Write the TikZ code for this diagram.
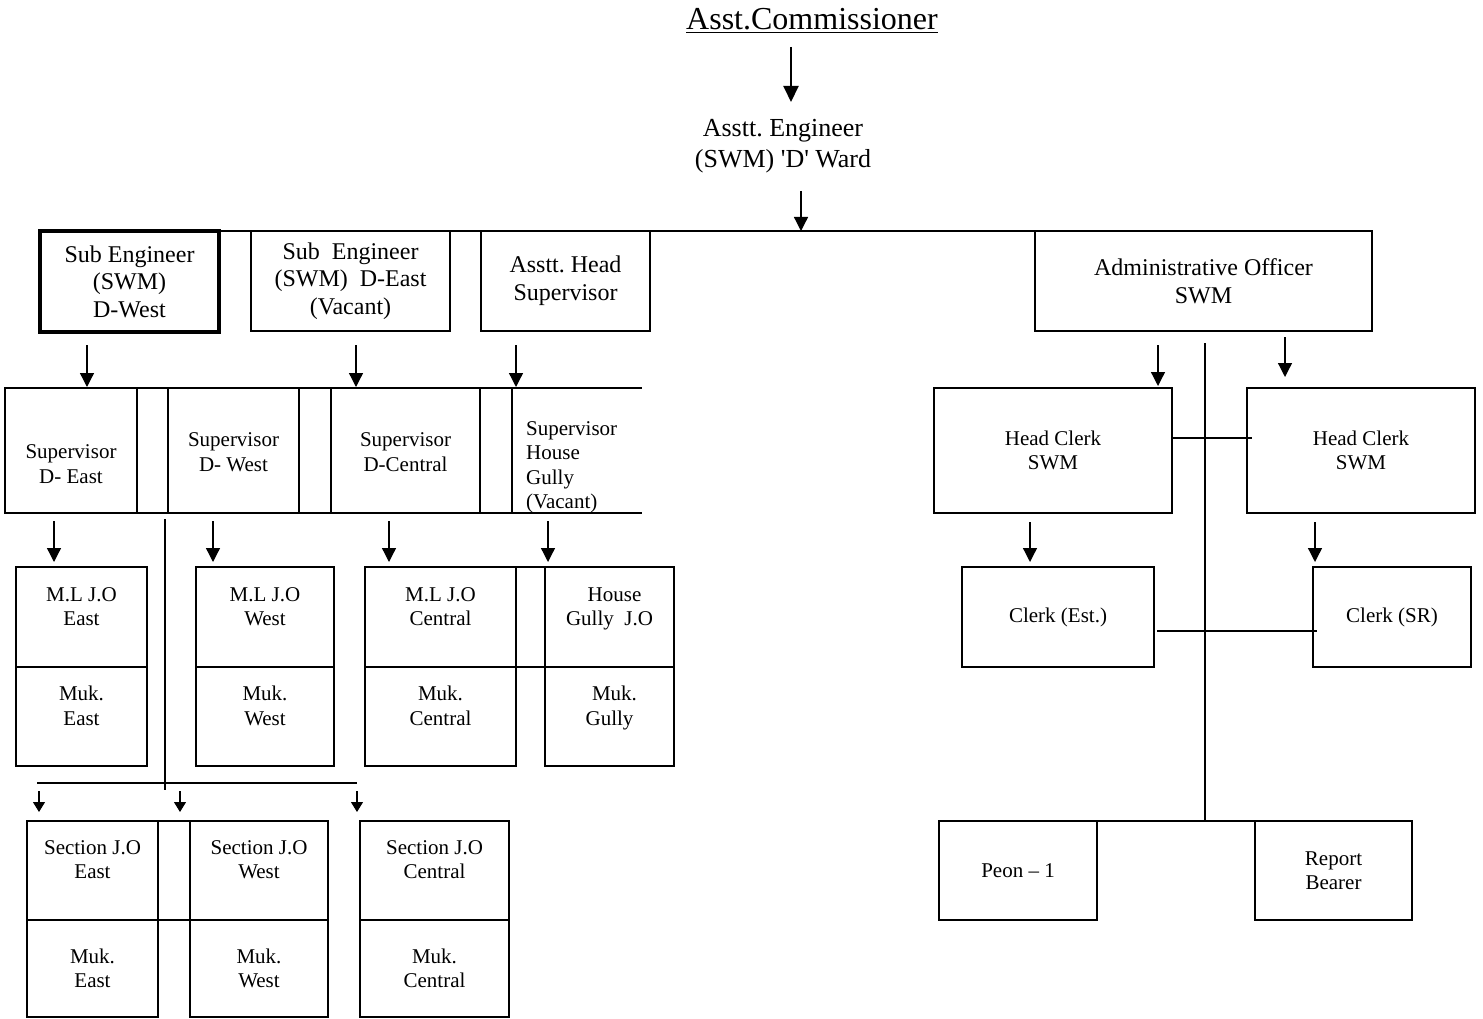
\documentclass[tikz,border=0pt]{standalone}
\usepackage{fontspec}
\setmainfont{Liberation Serif}
\usetikzlibrary{arrows.meta}
\frenchspacing
\newcommand\fsT{\fontsize{32}{37}\selectfont}
\newcommand\fsE{\fontsize{26}{31}\selectfont}
\newcommand\fsM{\fontsize{24}{27.6}\selectfont}
\newcommand\fsS{\fontsize{21}{24.5}\selectfont}
\tikzset{
  box/.style={draw, line width=1.8pt, inner sep=0pt, outer sep=0pt, align=center, font=\fsS},
  ghost/.style={inner sep=0pt, outer sep=0pt},
  txt/.style={inner sep=0pt, align=center, font=\fsS, text depth=0pt},
  ln/.style={line width=1.8pt},
  thinln/.style={line width=1.5pt},
  arr/.style={line width=1.3pt, -{Triangle[length=14pt,width=14pt]}},
  bigarr/.style={line width=2pt, -{Triangle[length=16pt,width=15pt]}},
  smallarr/.style={line width=1.1pt, -{Triangle[length=10pt,width=12pt]}},
}
\begin{document}
\begin{tikzpicture}[x=1pt,y=-1pt]
\useasboundingbox (0,0) rectangle (1483,1019);

% top
\node[inner sep=0pt, font=\fsT, anchor=base] (t) at (812,30) {Asst.Commissioner};
\draw[line width=1.5pt] ([yshift=-2.5pt]t.base west) -- ([yshift=-2.5pt]t.base east);
\node[txt, font=\fsE, text depth=] (ae) at (783,146) {Asstt. Engineer\\(SWM) \textquotesingle D\textquotesingle{} Ward};
\draw[bigarr] ([shift={(-21,17)}]t.base) -- ([shift={(8,-44)}]ae.center);

% row 1
\node[box, font=\fsM, line width=3.2pt, minimum width=179pt, minimum height=101pt] (b1) at (129.5,281.5) {Sub Engineer\\(SWM)\\D-West};
\node[box, font=\fsM, minimum width=199pt, minimum height=100pt] (b2) at (350.5,281) {Sub\ \ Engineer\\(SWM)\ \ D-East\\(Vacant)};
\node[box, font=\fsM, minimum width=169pt, minimum height=100pt] (b3) at (565.5,281) {Asstt. Head\\Supervisor};
\node[box, font=\fsM, minimum width=337pt, minimum height=100pt] (b4) at (1203.5,281) {Administrative Officer\\SWM};
\draw[ln] (b1.north west) -- (b4.north east);
\coordinate (sp) at (801,231);
\draw[arr] ([shift={(18,45)}]ae.center) -- (sp);

% row 2 supervisors
\node[box, minimum width=132pt, minimum height=125pt] (s1) at (71,450.5) {};
\node[box, minimum width=131pt, minimum height=125pt] (s2) at (233.5,450.5) {};
\node[box, minimum width=149pt, minimum height=125pt] (s3) at (405.5,450.5) {};
\node[ghost, minimum width=130pt, minimum height=125pt] (s4) at (577,450.5) {};
\draw[ln] (s1.north west) -- (s4.north east);
\draw[ln] (s1.south west) -- (s4.south east);
\draw[ln] (s4.north west) -- (s4.south west);
\node[txt] (s1t) at (71,464) {Supervisor\\D- East};
\node[txt] (s2t) at (233.5,452) {Supervisor\\D- West};
\node[txt] (s3t) at (405.5,452) {Supervisor\\D-Central};
\node[txt, align=left, anchor=west] (s4t) at (526,465) {Supervisor\\House\\Gully\\(Vacant)};

\draw[arr] ([shift={(-42.5,13)}]b1.south) -- ([shift={(16,-1)}]s1.north);
\draw[arr] ([shift={(5.5,14)}]b2.south) -- ([shift={(-49.5,-1)}]s3.north);
\draw[arr] ([shift={(-49.5,14)}]b3.south) -- ([shift={(-61,-1)}]s4.north);

% row 3
\node[box, minimum width=131pt, minimum height=100pt] (m1t) at (81.5,617) {};
\node[box, minimum width=131pt, minimum height=99pt] (m1b) at (81.5,716.5) {};
\node[box, minimum width=138pt, minimum height=100pt] (m2t) at (265,617) {};
\node[box, minimum width=138pt, minimum height=99pt] (m2b) at (265,716.5) {};
\node[box, minimum width=151pt, minimum height=100pt] (m3t) at (440.5,617) {};
\node[box, minimum width=151pt, minimum height=99pt] (m3b) at (440.5,716.5) {};
\node[box, minimum width=129pt, minimum height=100pt] (m4t) at (609.5,617) {};
\node[box, minimum width=129pt, minimum height=99pt] (m4b) at (609.5,716.5) {};
\draw[ln] (m3t.north east) -- (m4t.north west);
\draw[ln] (m3t.south east) -- (m4t.south west);
\node[txt] at (81.5,606.5) {M.L J.O\\East};
\node[txt] at (81.5,705.5) {Muk.\\East};
\node[txt] at (265,606.5) {M.L J.O\\West};
\node[txt] at (265,705.5) {Muk.\\West};
\node[txt] at (440.5,606.5) {M.L J.O\\Central};
\node[txt] at (440.5,705.5) {Muk.\\Central};
\node[txt] at (609.5,606.5) {\hspace*{10pt}House\\Gully\ \ J.O};
\node[txt] at (609.5,705.5) {\hspace*{10pt}Muk.\\Gully};

\draw[arr] ([shift={(-17,8)}]s1.south) -- ([shift={(-27.5,-5)}]m1t.north);
\draw[arr] ([shift={(-20.5,8)}]s2.south) -- ([shift={(-52,-5)}]m2t.north);
\draw[arr] ([shift={(-16.5,8)}]s3.south) -- ([shift={(-51.5,-5)}]m3t.north);
\draw[arr] ([shift={(-29,8)}]s4.south) -- ([shift={(-61.5,-5)}]m4t.north);

% row 4
\coordinate (hl) at (37,783);
\coordinate (hr) at (357,783);
\draw[ln] ([shift={(-3,6)}]s2.south west) -- ([shift={(128,7)}]hl);
\draw[ln] (hl) -- (hr);
\node[box, minimum width=131pt, minimum height=99pt] (x1t) at (92.5,870.5) {};
\node[box, minimum width=131pt, minimum height=97pt] (x1b) at (92.5,968.5) {Muk.\\East};
\node[box, minimum width=138pt, minimum height=99pt] (x2t) at (259,870.5) {};
\node[box, minimum width=138pt, minimum height=97pt] (x2b) at (259,968.5) {Muk.\\West};
\node[box, minimum width=149pt, minimum height=99pt] (x3t) at (434.5,870.5) {};
\node[box, minimum width=149pt, minimum height=97pt] (x3b) at (434.5,968.5) {Muk.\\Central};
\draw[ln] (x1t.north east) -- (x2t.north west);
\draw[ln] (x1t.south east) -- (x2t.south west);
\node[txt] at (92.5,859.5) {Section J.O\\East};
\node[txt] at (259,859.5) {Section J.O\\West};
\node[txt] at (434.5,859.5) {Section J.O\\Central};
\draw[smallarr] ([shift={(2,8)}]hl) -- ([shift={(-53.5,-9)}]x1t.north);
\draw[smallarr] ([shift={(143,8)}]hl) -- ([shift={(-79,-9)}]x2t.north);
\draw[smallarr] ([shift={(0,8)}]hr) -- ([shift={(-77.5,-9)}]x3t.north);

% right side
\node[box, minimum width=238pt, minimum height=125pt] (h1) at (1053,450.5) {Head Clerk\\SWM};
\node[box, minimum width=228pt, minimum height=125pt] (h2) at (1361,450.5) {Head Clerk\\SWM};
\node[box, minimum width=192pt, minimum height=100pt] (c1) at (1058,617) {Clerk (Est.)};
\node[box, minimum width=158pt, minimum height=100pt] (c2) at (1392,617) {Clerk (SR)};
\node[box, minimum width=158pt, minimum height=99pt] (p1) at (1018,870.5) {Peon \textendash{} 1};
\node[box, minimum width=157pt, minimum height=99pt] (p2) at (1333.5,870.5) {Report\\Bearer};
\draw[arr] ([shift={(-45.5,14)}]b4.south) -- ([shift={(105,-2)}]h1.north);
\draw[arr] ([shift={(81.5,6)}]b4.south) -- ([shift={(-76,-11)}]h2.north);
\draw[ln] ([shift={(1.5,12)}]b4.south) -- ([shift={(108,0)}]p1.north east);
\draw[ln] (p1.north east) -- (p2.north west);
\draw[thinln] ([shift={(0,-12.5)}]h1.east) -- ([shift={(5,-12.5)}]h2.west);
\draw[thinln] ([shift={(3,14)}]c1.east) -- ([shift={(4,14)}]c2.west);
\draw[arr] ([shift={(-23,9)}]h1.south) -- ([shift={(-28,-5)}]c1.north);
\draw[arr] ([shift={(-46,9)}]h2.south) -- ([shift={(-77,-5)}]c2.north);
\end{tikzpicture}
\end{document}
